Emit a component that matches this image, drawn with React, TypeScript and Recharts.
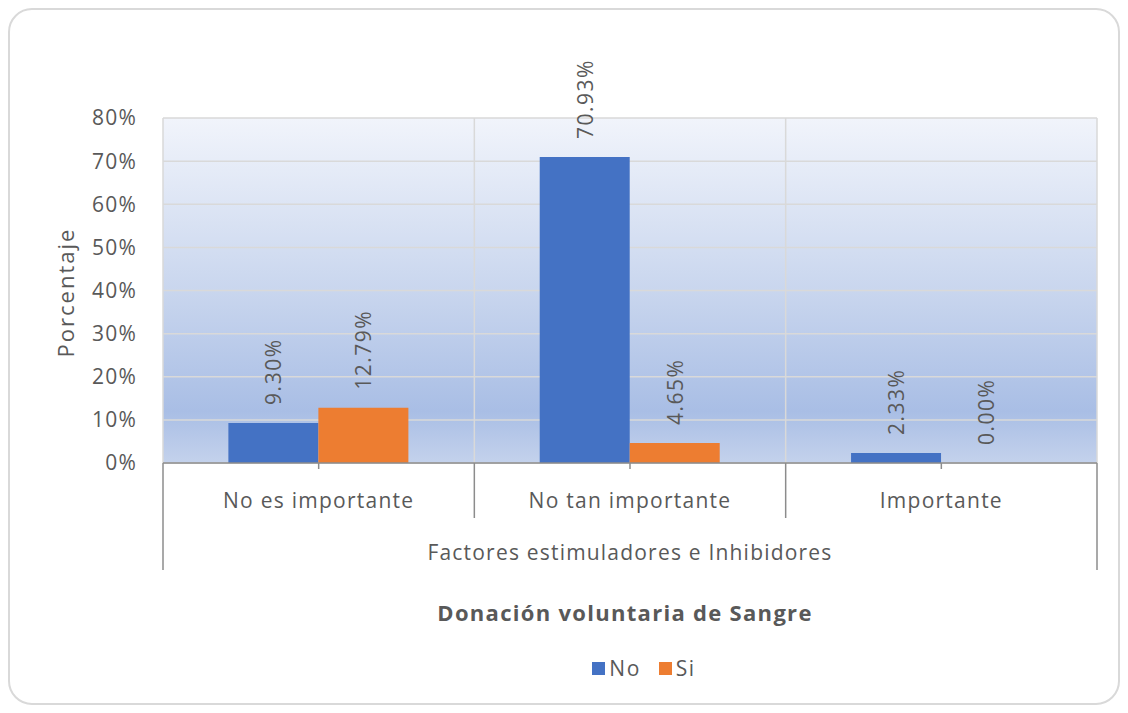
import React from "react";
import {
  BarChart,
  Bar,
  XAxis,
  YAxis,
  CartesianGrid,
  LabelList,
  Legend,
} from "recharts";

const categories = ["No es importante", "No tan importante", "Importante"];
const noValues = [9.3, 70.93, 2.33];
const siValues = [12.79, 4.65, 0.0];
const yTicks = [0, 10, 20, 30, 40, 50, 60, 70, 80];
const seriesNames = ["No", "Si"];
const seriesColors = ["#4472C4", "#ED7D31"];

const W = 1128;
const H = 713;
const PLOT_LEFT = 163;
const PLOT_RIGHT = 1097;
const PLOT_TOP = 118;
const PLOT_BOTTOM = 463;
const Y_AXIS_W = 120;
const PLOT_W = PLOT_RIGHT - PLOT_LEFT;

const FONT = "'Open Sans', 'Noto Sans', sans-serif";
const TEXT = "#595959";
const LINE = "#8c8c8c";

const data = categories.map((name, i) => ({
  name,
  No: noValues[i],
  Si: siValues[i],
}));

function CategoryTick(props: any) {
  const { x, y, payload, index } = props;
  const band = PLOT_W / categories.length;
  const axisY = y - 6;
  const last = index === categories.length - 1;
  return (
    <g>
      <text
        x={x}
        y={axisY + 37}
        textAnchor="middle"
        dominantBaseline="central"
        fill={TEXT}
        fontSize={21}
        fontFamily={FONT}
        letterSpacing={1.25}
      >
        {payload.value}
      </text>
      {index === 0 && (
        <line x1={x - band / 2} x2={x - band / 2} y1={axisY} y2={axisY + 107} stroke={LINE} strokeWidth={1.5} />
      )}
      <line
        x1={x + band / 2}
        x2={x + band / 2}
        y1={axisY}
        y2={axisY + (last ? 107 : 55)}
        stroke={LINE}
        strokeWidth={1.5}
      />
    </g>
  );
}

function BarValueLabel(props: any) {
  const { x, y, width, height, value } = props;
  const cx = x + width / 2;
  const top = Math.min(y, y + (height || 0));
  const ty = top - 18;
  return (
    <text
      x={cx}
      y={ty}
      transform={`rotate(-90 ${cx} ${ty})`}
      textAnchor="start"
      dominantBaseline="central"
      fill={TEXT}
      fontSize={21}
      fontFamily={FONT}
      letterSpacing={1.5}
    >
      {`${Number(value).toFixed(2)}%`}
    </text>
  );
}

function LegendBlock() {
  return (
    <div style={{ width: W, textAlign: "center", fontFamily: FONT, color: TEXT }}>
      <div
        style={{
          fontSize: 22,
          fontWeight: 700,
          letterSpacing: 1.3,
          height: 44,
          lineHeight: "44px",
          paddingLeft: 122,
          boxSizing: "border-box",
        }}
      >
        Donación voluntaria de Sangre
      </div>
      <div
        style={{
          marginTop: 22,
          display: "flex",
          justifyContent: "center",
          gap: 18,
          fontSize: 21,
          lineHeight: "24px",
          paddingLeft: 160,
          boxSizing: "border-box",
        }}
      >
        {seriesNames.map((n, i) => (
          <span key={n} style={{ display: "inline-flex", alignItems: "center", gap: 4, letterSpacing: 1.5 }}>
            <span style={{ width: 13, height: 13, background: seriesColors[i], display: "inline-block" }} />
            {n}
          </span>
        ))}
      </div>
    </div>
  );
}

export default function App() {
  return (
    <div style={{ position: "absolute", left: 0, top: 0, width: W, height: H, background: "#fff" }}>
      <div
        style={{
          position: "absolute",
          left: 8,
          top: 8,
          width: 1108,
          height: 693,
          border: "2px solid #d9d9d9",
          borderRadius: 24,
        }}
      />
      <div style={{ position: "absolute", left: 0, top: 0 }}>
        <BarChart
          width={W}
          height={H}
          data={data}
          margin={{ top: PLOT_TOP, right: W - PLOT_RIGHT, bottom: 0, left: PLOT_LEFT - Y_AXIS_W }}
          barCategoryGap="21%"
          barGap={0}
        >
          <defs>
            <linearGradient id="plotBg" x1="0" y1="0" x2="0" y2="1">
              <stop offset="0%" stopColor="#f1f4fb" />
              <stop offset="50%" stopColor="#c9d6ee" />
              <stop offset="85%" stopColor="#a9bee5" />
              <stop offset="100%" stopColor="#c4d2ec" />
            </linearGradient>
          </defs>
          <CartesianGrid
            fill="url(#plotBg)"
            stroke="#d9d9d9"
            strokeWidth={1.5}
            verticalCoordinatesGenerator={({ offset }: any) => {
              const l = offset?.left ?? PLOT_LEFT;
              const w = offset?.width ?? PLOT_W;
              return categories.map((_, i) => l + (i * w) / categories.length).concat([l + w]);
            }}
          />
          <XAxis
            dataKey="name"
            height={H - PLOT_BOTTOM}
            axisLine={{ stroke: LINE, strokeWidth: 1.5 }}
            tickLine={{ stroke: LINE, strokeWidth: 1.5 }}
            tickSize={6}
            tickMargin={0}
            tick={<CategoryTick />}
            interval={0}
            label={{
              content: ({ viewBox }: any) => (
                <text
                  x={viewBox.x + viewBox.width / 2}
                  y={viewBox.y + 89}
                  textAnchor="middle"
                  dominantBaseline="central"
                  fill={TEXT}
                  fontSize={21}
                  fontFamily={FONT}
                  letterSpacing={1.2}
                >
                  Factores estimuladores e Inhibidores
                </text>
              ),
            }}
          />
          <YAxis
            width={Y_AXIS_W}
            domain={[0, 80]}
            ticks={yTicks}
            tickFormatter={(v: number) => `${v}%`}
            axisLine={false}
            tickLine={false}
            tickSize={0}
            tickMargin={26}
            tick={{ fill: TEXT, fontSize: 21, fontFamily: FONT, letterSpacing: 1.2 }}
            label={{
              content: ({ viewBox }: any) => {
                const cx = 65;
                const cy = viewBox.y + viewBox.height / 2 + 2;
                return (
                  <text
                    x={cx}
                    y={cy}
                    transform={`rotate(-90 ${cx} ${cy})`}
                    textAnchor="middle"
                    dominantBaseline="central"
                    fill={TEXT}
                    fontSize={22}
                    fontFamily={FONT}
                    letterSpacing={2}
                  >
                    Porcentaje
                  </text>
                );
              },
            }}
          />
          <Legend
            layout="horizontal"
            align="center"
            verticalAlign="middle"
            wrapperStyle={{ top: 590, left: 0, width: W }}
            content={() => <LegendBlock />}
          />
          {seriesNames.map((n, i) => (
            <Bar key={n} dataKey={n} fill={seriesColors[i]} minPointSize={0.01} isAnimationActive={false}>
              <LabelList dataKey={n} content={<BarValueLabel />} />
            </Bar>
          ))}
        </BarChart>
      </div>
    </div>
  );
}
